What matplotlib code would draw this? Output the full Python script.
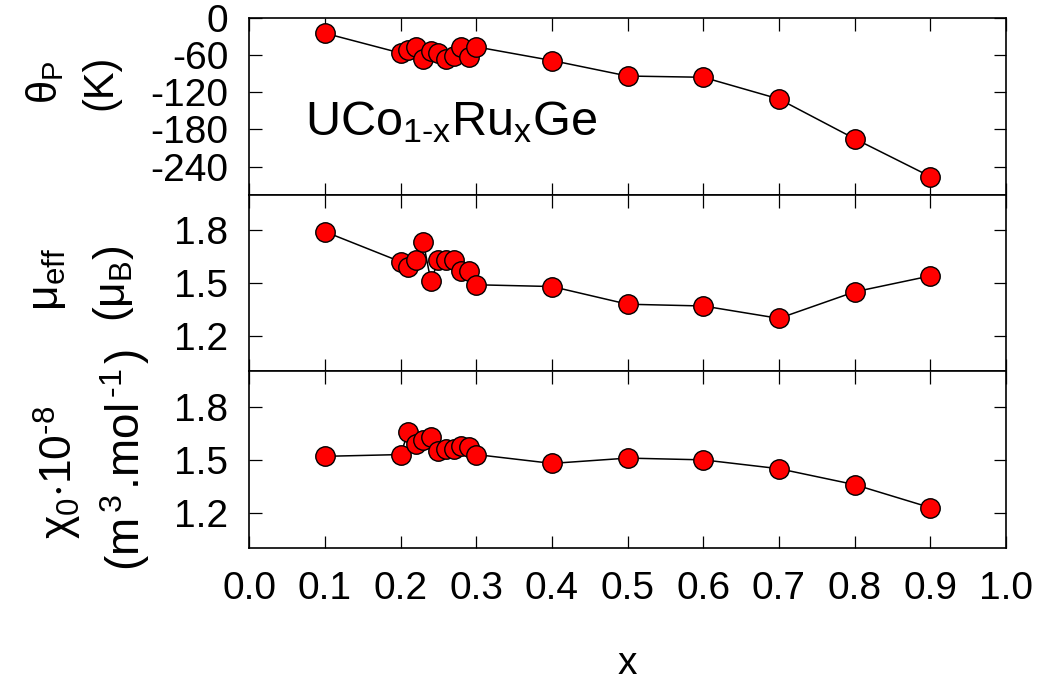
import matplotlib
matplotlib.use("Agg")
import matplotlib.pyplot as plt

plt.rcParams['font.family'] = ['Liberation Sans', 'DejaVu Sans']
plt.rcParams['mathtext.fontset'] = 'custom'
plt.rcParams['mathtext.rm'] = 'Liberation Sans'
plt.rcParams['mathtext.it'] = 'Liberation Sans'
plt.rcParams['mathtext.default'] = 'regular'
plt.rcParams['axes.unicode_minus'] = False

# composition x for UCo1-xRuxGe
x = [0.10, 0.20, 0.21, 0.22, 0.23, 0.24, 0.25, 0.26, 0.27, 0.28, 0.29, 0.30,
     0.40, 0.50, 0.60, 0.70, 0.80, 0.90]

# paramagnetic Curie temperature (K)
theta_p = [-25, -57, -52, -48, -66, -53, -57, -66, -61, -47, -64, -47,
           -69, -94, -96, -131, -195, -256]

# effective moment (mu_B)
mu_eff = [1.79, 1.62, 1.59, 1.63, 1.73, 1.51, 1.63, 1.63, 1.63, 1.57, 1.57, 1.49,
          1.48, 1.38, 1.37, 1.30, 1.45, 1.54]

# chi_0 * 10^-8 (m^3/mol)
chi0 = [1.52, 1.53, 1.66, 1.59, 1.61, 1.63, 1.55, 1.56, 1.56, 1.58, 1.57, 1.53,
        1.48, 1.51, 1.50, 1.45, 1.36, 1.23]

xticks = [0.0, 0.1, 0.2, 0.3, 0.4, 0.5, 0.6, 0.7, 0.8, 0.9, 1.0]

W, H = 1042, 687
fig = plt.figure(figsize=(W / 100, H / 100), dpi=100)

left = 249.3 / W
width = (1006 - 249.3) / W
top_px, bot_px = 17.7, 548.3
ph = (bot_px - top_px) / 3

axes = []
for i in range(3):
    b = 1 - (top_px + (i + 1) * ph) / H
    ax = fig.add_axes([left, b, width, ph / H])
    axes.append(ax)

series = [theta_p, mu_eff, chi0]
for ax, y in zip(axes, series):
    ax.plot(x, y, color='black', lw=1.1, zorder=2)
    ax.plot(x, y, 'o', ms=14, mfc='red', mec='black', mew=1.0, zorder=3,
            linestyle='none')
    ax.set_xlim(0, 1)
    ax.set_xticks(xticks)
    ax.tick_params(direction='in', top=True, right=True, length=9, width=0.9,
                   labelsize=28)
    ax.tick_params(axis='y', pad=15)
    ax.tick_params(axis='x', pad=16)
    for s in ax.spines.values():
        s.set_linewidth(1.2)

axes[0].set_ylim(-285, 0)
axes[0].set_yticks([0, -60, -120, -180, -240])
axes[1].set_ylim(1.0, 2.0)
axes[1].set_yticks([1.2, 1.5, 1.8])
axes[2].set_ylim(1.0, 2.0)
axes[2].set_yticks([1.2, 1.5, 1.8])
axes[1].set_yticklabels(['1.2', '1.5', '1.8'])
axes[2].set_yticklabels(['1.2', '1.5', '1.8'])

for ax in axes[:2]:
    ax.tick_params(labelbottom=False)

axes[0].text(0.0736, -189, r'UCo$_{1\text{-}x}$Ru$_x$Ge', fontsize=35,
             ha='left', va='baseline')

def ylab(px, py, s, size=30):
    fig.text(px / W, 1 - py / H, s, rotation=90, ha='center', va='center',
             fontsize=size)

ylab(45, 82, r'$\theta_P$')
ylab(100, 82, '(K)')
ylab(48, 280, r'$\mu_{eff}$', 32)
ylab(113, 284, r'($\mu_B$)', 32)
ylab(58, 472, r'$\chi_0$$\cdot$10$^{\text{-}8}$', 32)
ylab(125, 460, r'(m$^{\,3\,}$.mol$^{\,\text{-}1\,}$)', 33)

fig.text(627 / W, 1 - 664 / H, 'x', ha='center', va='center', fontsize=28)

fig.savefig('out.png', dpi=100)
